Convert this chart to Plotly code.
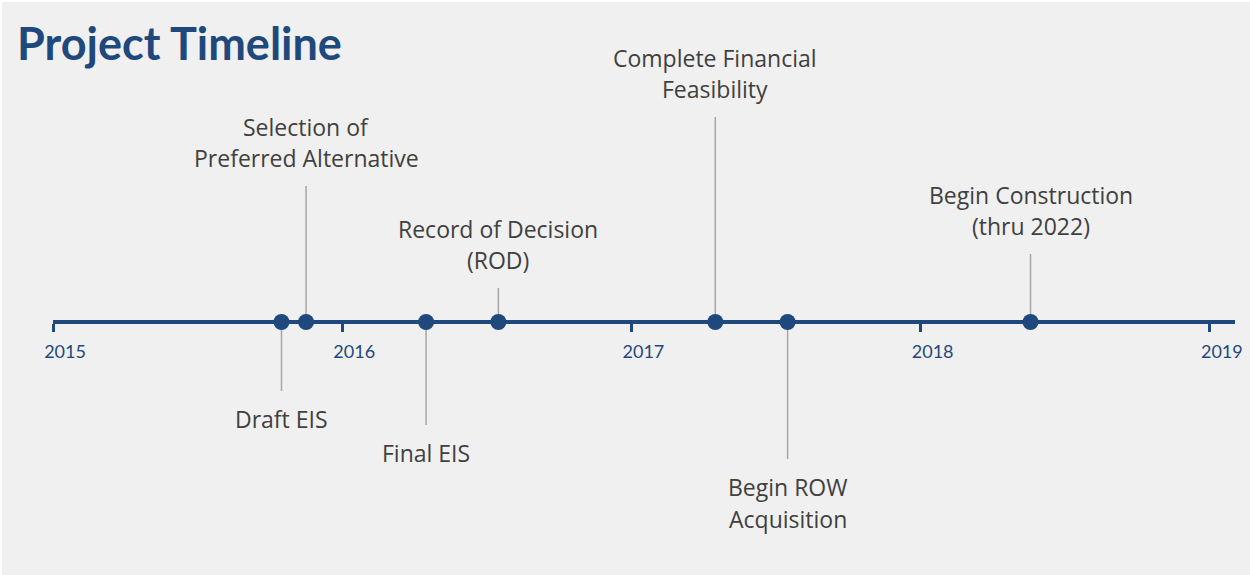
import plotly.graph_objects as go

# ---- data ----
event_labels = [
    ["Draft EIS"],
    ["Selection of", "Preferred Alternative"],
    ["Final EIS"],
    ["Record of Decision", "(ROD)"],
    ["Complete Financial", "Feasibility"],
    ["Begin ROW", "Acquisition"],
    ["Begin Construction", "(thru 2022)"],
]
event_dates = [2015.79, 2015.875, 2016.29, 2016.54, 2017.29, 2017.54, 2018.38]
stem_heights = [-69, 136, -103, 34, 205, -137, 68]
year_ticks = [2015, 2016, 2017, 2018, 2019]
year_labels = ["2015", "2016", "2017", "2018", "2019"]

# ---- styles ----
BLUE = "#1f497d"
TEXT = "#404040"
STEM = "#a6a6a6"
BG = "#f0f0f0"
W, H = 1250, 575
OFF = 2                 # white page border (top/left)
AXIS_PX = 322 - OFF     # pixel row of the timeline inside the figure
LINE_GAP = 31.5
LABEL_PAD = 28

fig = go.Figure()

# stems
sx, sy = [], []
for d, h in zip(event_dates, stem_heights):
    sx += [d, d, None]
    sy += [0, h, None]
fig.add_trace(go.Scatter(x=sx, y=sy, mode="lines",
                         line=dict(color=STEM, width=1.5),
                         hoverinfo="skip", showlegend=False))

# markers
fig.add_trace(go.Scatter(x=event_dates, y=[0] * len(event_dates), mode="markers",
                         marker=dict(size=16, color=BLUE),
                         hoverinfo="skip", showlegend=False))

# labels
for d, h, lines in zip(event_dates, stem_heights, event_labels):
    n = len(lines)
    for i, txt in enumerate(lines):
        if h > 0:
            y = h + LABEL_PAD + (n - 1 - i) * LINE_GAP
        else:
            y = h - LABEL_PAD - i * LINE_GAP
        fig.add_annotation(x=d, y=y, text=txt, showarrow=False,
                           xanchor="center", yanchor="middle",
                           font=dict(family="Open Sans", size=23, color=TEXT))

fig.update_layout(
    width=W, height=H,
    paper_bgcolor=BG, plot_bgcolor=BG,
    margin=dict(l=53 - OFF, r=W - (1235 - OFF), t=0, b=0),
    showlegend=False,
    title=dict(text="<b>Project Timeline</b>", xref="container", yref="container",
               x=15 / W, xanchor="left", y=1 - 42 / H, yanchor="middle",
               font=dict(family="Lato", size=45, color=BLUE)),
    xaxis=dict(range=[2015, 2019.087], anchor="free", position=(H - AXIS_PX) / H,
               showline=True, linecolor=BLUE, linewidth=4,
               ticks="outside", ticklen=8, tickwidth=3, tickcolor=BLUE,
               tickvals=year_ticks, ticktext=year_labels,
               ticklabelshift=12, ticklabelstandoff=4,
               tickfont=dict(family="Lato", size=18, color=BLUE),
               showgrid=False, zeroline=False, layer="below traces",
               fixedrange=True),
    yaxis=dict(range=[-(H - AXIS_PX), AXIS_PX], visible=False,
               showgrid=False, zeroline=False, fixedrange=True),
)

fig.write_html("out.html",
               post_script=("document.body.style.margin='%dpx 0 0 %dpx';"
                            "document.documentElement.style.overflow='hidden';"
                            "document.body.style.background='white';") % (OFF, OFF))
